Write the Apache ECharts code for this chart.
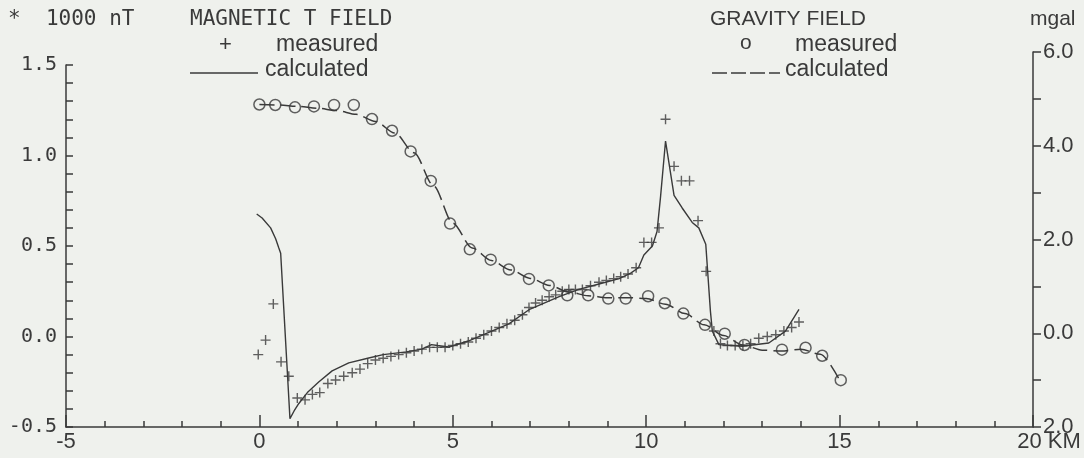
<!DOCTYPE html>
<html>
<head>
<meta charset="utf-8">
<script src="https://cdn.jsdelivr.net/npm/echarts@6/dist/echarts.min.js"></script>
<style>
  html, body { margin: 0; padding: 0; background: #eff1ed; }
  #main { width: 1084px; height: 458px; }
</style>
</head>
<body>
<div id="main"></div>
<script>
// distance along profile (km) vs. field values
const magMeasured = [
  [-0.03, -0.10], [0.16, -0.02], [0.36, 0.18], [0.56, -0.14], [0.76, -0.22],
  [0.98, -0.34], [1.18, -0.35], [1.37, -0.32], [1.56, -0.31], [1.77, -0.26],
  [1.97, -0.24], [2.18, -0.22], [2.4, -0.20], [2.6, -0.18], [2.8, -0.15],
  [3.0, -0.13], [3.2, -0.12], [3.4, -0.11], [3.6, -0.10], [3.8, -0.09],
  [4.0, -0.08], [4.2, -0.07], [4.4, -0.06], [4.6, -0.06], [4.8, -0.06],
  [5.0, -0.05], [5.2, -0.04], [5.4, -0.03], [5.6, -0.01], [5.8, 0.01],
  [6.0, 0.03], [6.2, 0.05], [6.4, 0.07], [6.6, 0.09], [6.8, 0.12],
  [6.97, 0.16], [7.14, 0.185], [7.31, 0.20], [7.49, 0.22], [7.66, 0.23],
  [7.83, 0.25], [8.0, 0.26], [8.17, 0.26], [8.35, 0.26], [8.56, 0.28],
  [8.78, 0.30], [8.97, 0.31], [9.16, 0.32], [9.34, 0.33], [9.53, 0.345],
  [9.74, 0.38], [9.94, 0.52], [10.14, 0.52], [10.33, 0.60], [10.5, 1.20],
  [10.72, 0.94], [10.91, 0.86], [11.12, 0.86], [11.34, 0.64], [11.55, 0.36],
  [11.75, 0.03], [11.92, -0.04], [12.1, -0.05], [12.3, -0.05], [12.5, -0.05],
  [12.7, -0.04], [12.91, -0.01], [13.13, 0.0], [13.35, 0.01], [13.56, 0.03],
  [13.76, 0.05], [13.95, 0.08]
];
const magCalculated = [
  [-0.07, 0.677], [0.07, 0.655], [0.29, 0.60], [0.42, 0.54], [0.5, 0.49],
  [0.55, 0.46], [0.79, -0.454], [0.9, -0.41], [1.02, -0.37], [1.24, -0.31],
  [1.54, -0.25], [1.88, -0.19], [2.31, -0.146], [2.8, -0.12], [3.2, -0.10],
  [3.8, -0.085], [4.2, -0.07], [4.45, -0.045], [4.6, -0.05], [4.9, -0.058],
  [5.4, -0.025], [5.9, 0.02], [6.45, 0.07], [6.97, 0.148], [7.75, 0.22],
  [8.26, 0.26], [8.78, 0.29], [9.3, 0.32], [9.6, 0.35], [9.8, 0.38],
  [9.94, 0.45], [10.16, 0.50], [10.28, 0.58], [10.37, 0.77], [10.5, 1.08],
  [10.72, 0.78], [10.93, 0.71], [11.19, 0.63], [11.36, 0.60], [11.54, 0.51],
  [11.66, 0.14], [11.71, 0.03], [11.88, -0.045], [12.48, -0.054], [13.17, -0.036],
  [13.6, 0.03], [13.95, 0.15]
];
const gravMeasured = [
  [0.0, 4.88], [0.41, 4.87], [0.92, 4.82], [1.41, 4.84], [1.93, 4.87],
  [2.44, 4.87], [2.91, 4.57], [3.43, 4.32], [3.91, 3.88], [4.43, 3.25],
  [4.93, 2.34], [5.44, 1.79], [5.98, 1.57], [6.45, 1.36], [6.97, 1.16],
  [7.48, 1.02], [7.96, 0.81], [8.5, 0.81], [9.02, 0.74], [9.47, 0.74],
  [10.05, 0.79], [10.48, 0.64], [10.96, 0.42], [11.52, 0.18], [12.03, -0.01],
  [12.54, -0.25], [13.51, -0.35], [14.12, -0.31], [14.55, -0.48], [15.03, -1.0]
];
const gravCalculated = [
  [0, 4.88], [0.5, 4.87], [1, 4.84], [1.5, 4.80], [2, 4.75], [2.5, 4.67],
  [3, 4.52], [3.5, 4.27], [4, 3.85], [4.5, 3.15], [5, 2.35], [5.5, 1.82],
  [6, 1.55], [6.5, 1.35], [7, 1.17], [7.5, 1.02], [8, 0.88], [8.5, 0.80],
  [9, 0.76], [9.5, 0.76], [10, 0.74], [10.5, 0.62], [11, 0.42], [11.5, 0.18],
  [12, -0.05], [12.5, -0.25], [13, -0.36], [13.5, -0.38], [14, -0.34],
  [14.5, -0.45], [15, -1.0]
];

const ink = '#3a3a3a';
const mono = 'DejaVu Sans Mono';
const sans = 'Liberation Sans';
const plus = 'path://M4.3,0h1.4v4.3h4.3v1.4h-4.3v4.3h-1.4v-4.3h-4.3v-1.4h4.3z';

let myChart = echarts.init(document.getElementById('main'));

let option = {
  backgroundColor: '#eff1ed',
  animation: false,
  grid: [
    { left: 66, right: 51, top: 65, bottom: 31 },
    { left: 66, right: 51, top: 52, bottom: 31 }
  ],
  xAxis: [{
    gridIndex: 0,
    type: 'value',
    min: -5,
    max: 20,
    interval: 5,
    axisLine: { onZero: false, lineStyle: { color: ink, width: 1.5 } },
    axisTick: { inside: true, length: 12, lineStyle: { color: ink, width: 1.5 } },
    minorTick: { show: true, splitNumber: 5, length: 6, lineStyle: { color: ink, width: 1.5 } },
    splitLine: { show: false },
    axisLabel: {
      color: ink, fontFamily: sans, fontSize: 22, margin: 4,
      formatter: v => v === 20 ? '{a|20 KM}' : String(v),
      rich: { a: { fontFamily: sans, fontSize: 22, color: ink, padding: [0, 0, 0, 32] } }
    }
  }, {
    gridIndex: 1,
    type: 'value',
    min: -5,
    max: 20,
    show: false
  }],
  yAxis: [{
    gridIndex: 0,
    type: 'value',
    position: 'left',
    min: -0.5,
    max: 1.5,
    interval: 0.5,
    axisLine: { show: true, onZero: false, lineStyle: { color: ink, width: 1.5 } },
    axisTick: { show: true, inside: true, length: 7, lineStyle: { color: ink, width: 1.5 } },
    minorTick: { show: true, splitNumber: 5, length: 7, lineStyle: { color: ink, width: 1.5 } },
    splitLine: { show: false },
    axisLabel: {
      color: ink, fontFamily: mono, fontSize: 20, margin: 9,
      formatter: v => v.toFixed(1)
    }
  }, {
    gridIndex: 1,
    type: 'value',
    position: 'right',
    min: -2,
    max: 6,
    interval: 2,
    axisLine: { show: true, onZero: false, lineStyle: { color: ink, width: 1.5 } },
    axisTick: { show: true, inside: false, length: 8, lineStyle: { color: ink, width: 1.5 } },
    minorTick: { show: true, splitNumber: 2, length: 8, lineStyle: { color: ink, width: 1.5 } },
    splitLine: { show: false },
    axisLabel: {
      color: ink, fontFamily: sans, fontSize: 22, margin: 10,
      // the tick itself reads as the minus sign on the original
      formatter: v => Math.abs(v).toFixed(1)
    }
  }],
  series: [{
    name: 'magnetic calculated',
    type: 'line',
    xAxisIndex: 0,
    yAxisIndex: 0,
    data: magCalculated,
    symbol: 'none',
    lineStyle: { color: ink, width: 1.4 }
  }, {
    name: 'magnetic measured',
    type: 'scatter',
    xAxisIndex: 0,
    yAxisIndex: 0,
    data: magMeasured,
    symbol: plus,
    symbolSize: 10,
    itemStyle: { color: ink }
  }, {
    name: 'gravity calculated',
    type: 'line',
    xAxisIndex: 1,
    yAxisIndex: 1,
    data: gravCalculated,
    symbol: 'none',
    smooth: 0.3,
    smoothMonotone: 'x',
    lineStyle: { color: ink, width: 1.5, type: [15, 6] }
  }, {
    name: 'gravity measured',
    type: 'scatter',
    xAxisIndex: 1,
    yAxisIndex: 1,
    data: gravMeasured,
    symbol: 'circle',
    symbolSize: 11,
    itemStyle: { color: 'rgba(0,0,0,0)', borderColor: ink, borderWidth: 1.5 }
  }],
  graphic: [
    { type: 'text', left: 8, top: 9, style: { text: '*  1000 nT', font: '21px "DejaVu Sans Mono"', fill: ink } },
    { type: 'text', left: 190, top: 9, style: { text: 'MAGNETIC T FIELD', font: '21px "DejaVu Sans Mono"', fill: ink } },
    { type: 'text', left: 219, top: 34, style: { text: '+', font: '22px "Liberation Sans"', fill: ink } },
    { type: 'text', left: 276, top: 33, style: { text: 'measured', font: '23px "Liberation Sans"', fill: ink } },
    { type: 'line', shape: { x1: 190, y1: 73, x2: 258, y2: 73 }, style: { stroke: ink, lineWidth: 1.5 } },
    { type: 'text', left: 265, top: 58, style: { text: 'calculated', font: '23px "Liberation Sans"', fill: ink } },
    { type: 'text', left: 710, top: 9, style: { text: 'GRAVITY FIELD', font: '21px "Liberation Sans"', fill: ink } },
    { type: 'text', left: 740, top: 33, style: { text: 'o', font: '21px "Liberation Sans"', fill: ink } },
    { type: 'text', left: 795, top: 33, style: { text: 'measured', font: '23px "Liberation Sans"', fill: ink } },
    { type: 'line', shape: { x1: 712, y1: 73, x2: 780, y2: 73 }, style: { stroke: ink, lineWidth: 1.5, lineDash: [15, 4] } },
    { type: 'text', left: 785, top: 58, style: { text: 'calculated', font: '23px "Liberation Sans"', fill: ink } },
    { type: 'text', left: 1030, top: 9, style: { text: 'mgal', font: '21px "Liberation Sans"', fill: ink } }
  ]
};

myChart.setOption(option);
</script>
</body>
</html>
